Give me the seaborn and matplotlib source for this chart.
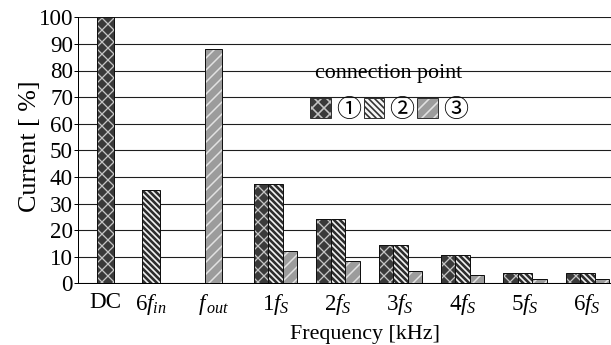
import numpy as np
import matplotlib
matplotlib.use("Agg")
import matplotlib.pyplot as plt
from matplotlib.patches import Patch
import seaborn as sns

# ---- data -------------------------------------------------------------
categories = ["DC", r"$6f_{in}$", r"$f_{\,out}$", r"$1f_S$", r"$2f_S$",
              r"$3f_S$", r"$4f_S$", r"$5f_S$", r"$6f_S$"]
point1 = [100.0, None, None, 37.3, 24.0, 14.3, 10.5, 3.8, 3.8]
point2 = [None, 35.0, None, 37.3, 24.0, 14.3, 10.5, 3.8, 3.8]
point3 = [None, None, 88.0, 12.1, 8.4, 4.5, 3.1, 1.6, 1.6]
series_labels = ["①", "②", "③"]
legend_title = "connection point"
y_label = "Current [ %]"
x_label = "Frequency [kHz]"
y_ticks = list(range(0, 101, 10))

# ---- style ------------------------------------------------------------
sns.set_theme(style="white")
serif = ["Liberation Serif", "Noto Sans CJK JP", "DejaVu Sans"]
plt.rcParams["font.family"] = serif
plt.rcParams["text.color"] = "black"
plt.rcParams["mathtext.fontset"] = "custom"
plt.rcParams["mathtext.rm"] = "Liberation Serif"
plt.rcParams["mathtext.it"] = "Liberation Serif:italic"
plt.rcParams["hatch.linewidth"] = 1.6

styles = [
    dict(face="#3a3a3a", hatch="xx", hcolor="#c4c4c4", hlw=1.3),
    dict(face="#f4f4f4", hatch="\\\\\\\\", hcolor="#2e2e2e", hlw=2.6),
    dict(face="#9c9c9c", hatch="//", hcolor="#e2e2e2", hlw=1.5),
]

W, H = 611, 345
fig = plt.figure(figsize=(W / 72, H / 72), dpi=72)
ax = fig.add_axes([78 / W, 1 - 283.3 / H, 533 / W, 266 / H])

# category centres on the x axis (DC sits slightly right of its slot)
centers = np.arange(len(categories), dtype=float)
centers[0] += 0.27
group_w = 0.233
single_w = 0.28

series = [point1, point2, point3]


def style_patches(patches, st, outline):
    for p in patches:
        if outline:
            p.set_facecolor("none")
            p.set_edgecolor("#111111")
            p.set_linewidth(1.0)
            p.set_hatch(None)
        else:
            p.set_facecolor(st["face"])
            p.set_edgecolor(st["hcolor"])
            p.set_linewidth(0)
            p.set_hatch(st["hatch"])
            if hasattr(p, "set_hatch_linewidth"):
                p.set_hatch_linewidth(st["hlw"])


def draw(xs, ys, width, st):
    for outline in (False, True):
        n0 = len(ax.patches)
        sns.barplot(x=xs, y=ys, native_scale=True, orient="x", width=width,
                    errorbar=None, color=st["face"], saturation=1, ax=ax)
        style_patches(ax.patches[n0:], st, outline)


for s, vals in enumerate(series):
    st = styles[s]
    gx, gy, sx, sy = [], [], [], []
    for i, v in enumerate(vals):
        if v is None:
            continue
        present = sum(ser[i] is not None for ser in series)
        if present == 1:
            sx.append(centers[i]); sy.append(v)
        else:
            gx.append(centers[i] + (s - 1) * group_w); gy.append(v)
    if sx:
        draw(sx, sy, single_w, st)
    if gx:
        draw(gx, gy, group_w, st)

# ---- axes -------------------------------------------------------------
ax.set_xlim(-0.17, 8.38)
ax.set_ylim(0, 100)
ax.set_xticks(centers)
ax.set_xticklabels(categories)
ax.set_yticks(y_ticks)
ax.tick_params(axis="x", length=0, pad=9, labelsize=23, colors="black")
ax.tick_params(axis="y", direction="out", length=4, width=1, pad=1,
               labelsize=23, colors="black", left=True)
ax.yaxis.grid(True, color="#1e1e1e", linewidth=1.1)
ax.xaxis.grid(False)
ax.set_axisbelow(True)
for side in ("top", "right"):
    ax.spines[side].set_visible(False)
for side in ("left", "bottom"):
    ax.spines[side].set_color("black")
    ax.spines[side].set_linewidth(1.0)

ax.set_xlabel(x_label, fontsize=22, color="black")
ax.xaxis.set_label_coords((365 - 78) / 533, -0.155)
ax.set_ylabel(y_label, fontsize=26, color="black")
ax.yaxis.set_label_coords(-0.07, 0.516)

# ---- legend -----------------------------------------------------------
handles = []
for st in styles:
    fill = Patch(facecolor=st["face"], edgecolor=st["hcolor"], hatch=st["hatch"], linewidth=0)
    edge = Patch(facecolor="none", edgecolor="#333333", linewidth=1.0)
    handles.append((fill, edge))
leg = fig.legend(handles, series_labels, title=legend_title, ncol=3,
                 loc="upper center", bbox_to_anchor=(389 / W, 1 - 64 / H),
                 frameon=False, prop={"family": ["Noto Sans CJK JP", "DejaVu Sans"], "size": 25},
                 title_fontproperties={"family": serif, "size": 22},
                 handlelength=0.82, handleheight=0.88, handletextpad=0.2,
                 columnspacing=0.12, labelspacing=0.55, borderpad=0,
                 borderaxespad=0)
leg.get_title().set_color("black")
for t in leg.get_texts():
    t.set_color("black")

fig.savefig("out.png", dpi=72)
